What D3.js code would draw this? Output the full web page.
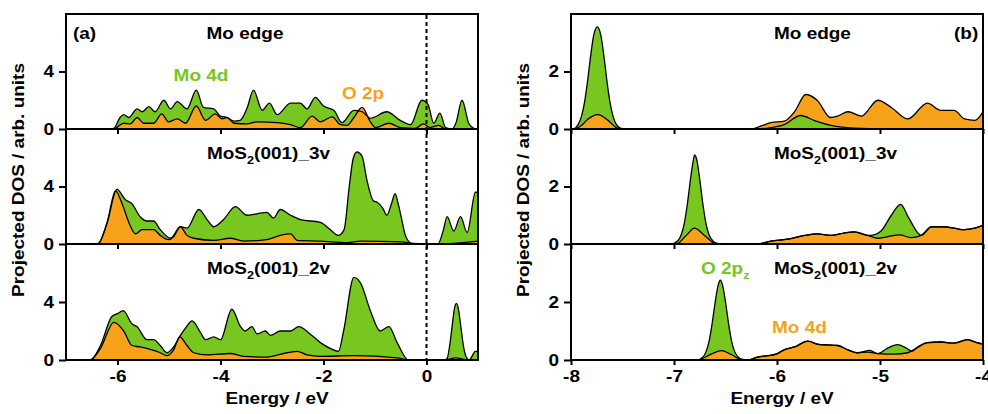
<!DOCTYPE html>
<html><head><meta charset="utf-8">
<script src="https://cdn.jsdelivr.net/npm/d3@7/dist/d3.min.js"></script>
<style>
body{margin:0;background:#fff;}
svg text{font-family:"Liberation Sans",Arial,sans-serif;font-weight:bold;}
</style></head>
<body><svg id="c" width="988" height="414"></svg>
<script>
// ---------- DATA ----------
const leftXTicks = [-6,-4,-2,0];
const leftYTicks = [0,4];
const rightXTicks = [-8,-7,-6,-5,-4];
const rightYTicks = [0,2];
const panelTitles = ["Mo edge","MoS2(001)_3v","MoS2(001)_2v"];

// (a) green = Mo 4d, orange = O 2p
const leftMoEdgeMo4d = [[-7,0],[-6.2,0],[-6.07,0.05],[-5.95,0.8],[-5.88,1.0],[-5.78,0.8],[-5.62,1.4],[-5.52,1.2],[-5.39,1.55],[-5.27,1.2],[-5.10,2.0],[-4.97,1.4],[-4.84,1.9],[-4.65,1.4],[-4.47,2.7],[-4.33,1.5],[-4.13,1.4],[-4.0,0.9],[-3.87,0.8],[-3.74,0.55],[-3.62,0.6],[-3.48,1.5],[-3.36,2.7],[-3.19,1.3],[-3.05,1.8],[-2.90,1.0],[-2.64,1.8],[-2.45,1.8],[-2.32,1.4],[-2.16,2.2],[-2.0,1.6],[-1.80,1.3],[-1.64,0.45],[-1.41,1.3],[-1.25,1.2],[-1.09,0.75],[-0.77,1.2],[-0.51,0.6],[-0.31,0.3],[-0.09,2.0],[0.03,1.7],[0.14,0.4],[0.26,1.1],[0.37,0.1],[0.50,0],[0.57,0.4],[0.69,2.0],[0.82,0.4],[0.92,0.05],[1,0]];
const leftMoEdgeO2p = [[-7,0],[-6.1,0],[-6.04,0.05],[-5.88,0.4],[-5.75,0.35],[-5.62,0.8],[-5.49,0.4],[-5.30,0.4],[-5.14,1.05],[-5.01,0.5],[-4.84,0.7],[-4.68,0.4],[-4.47,1.6],[-4.29,0.6],[-4.10,1.05],[-3.97,0.7],[-3.87,0.8],[-3.74,0.4],[-3.49,0.35],[-3.29,0.5],[-2.90,0.45],[-2.64,0.3],[-2.45,0.1],[-2.22,0.9],[-2.06,0.5],[-1.83,0.85],[-1.67,0.3],[-1.54,0.25],[-1.41,0.8],[-1.25,1.5],[-1.09,0.5],[-0.99,0.1],[-0.73,0.4],[-0.51,0.1],[-0.22,0.05],[-0.06,0.35],[0.07,0.1],[0.24,0.25],[0.37,0],[1,0]];
const left3vMo4d = [[-7,0],[-6.45,0],[-6.37,0.05],[-6.20,1.5],[-6.01,3.8],[-5.85,3.1],[-5.72,2.8],[-5.56,1.9],[-5.43,1.6],[-5.30,1.6],[-5.17,1.0],[-4.97,0.4],[-4.78,1.2],[-4.65,1.1],[-4.42,2.4],[-4.26,1.7],[-4.13,1.2],[-3.94,1.7],[-3.71,2.6],[-3.49,2.0],[-3.29,2.1],[-3.10,2.2],[-2.97,1.8],[-2.84,2.4],[-2.64,2.0],[-2.45,1.7],[-2.06,1.5],[-1.87,1.0],[-1.71,0.6],[-1.60,1.0],[-1.50,4.0],[-1.42,6.0],[-1.35,6.4],[-1.25,6.1],[-1.16,4.5],[-1.03,3.0],[-0.96,2.9],[-0.85,2.5],[-0.77,2.0],[-0.68,2.8],[-0.61,3.5],[-0.55,2.8],[-0.48,1.7],[-0.41,0.6],[-0.30,0.05],[-0.25,0],[0.22,0],[0.33,1.0],[0.40,1.9],[0.53,0.9],[0.66,1.9],[0.79,0.8],[0.95,3.6],[1,3.6]];
const left3vO2p = [[-7,0],[-6.45,0],[-6.37,0.05],[-6.20,1.5],[-6.04,3.7],[-5.91,2.8],[-5.78,1.5],[-5.65,0.7],[-5.52,1.0],[-5.30,1.0],[-5.17,0.6],[-5.01,0.3],[-4.91,0.5],[-4.78,1.2],[-4.65,0.6],[-4.52,0.4],[-4.13,0.25],[-3.81,0.4],[-3.55,0.2],[-3.10,0.3],[-2.84,0.6],[-2.64,0.7],[-2.51,0.25],[-2.06,0.2],[-1.54,0.1],[-1.28,0.2],[-0.48,0.15],[-0.25,0.05],[0.2,0],[1,0.2]];
const left2vMo4d = [[-7,0],[-6.55,0],[-6.50,0.05],[-6.33,1.0],[-6.11,3.0],[-6.0,3.2],[-5.89,3.4],[-5.72,2.5],[-5.62,2.3],[-5.43,1.4],[-5.30,1.4],[-5.17,1.0],[-5.04,0.5],[-4.91,0.9],[-4.78,1.7],[-4.68,2.2],[-4.55,2.7],[-4.39,1.9],[-4.29,1.4],[-4.13,1.6],[-4.0,1.4],[-3.78,3.5],[-3.61,2.3],[-3.52,2.0],[-3.39,2.3],[-3.29,1.8],[-3.13,2.0],[-3.03,1.7],[-2.84,2.0],[-2.64,2.0],[-2.48,2.3],[-2.26,1.8],[-2.06,1.2],[-1.87,0.8],[-1.71,0.6],[-1.61,2.0],[-1.41,5.7],[-1.28,5.3],[-1.09,3.4],[-0.90,2.0],[-0.73,2.3],[-0.57,1.2],[-0.35,0],[0.35,0],[0.40,0.1],[0.45,1.0],[0.50,2.4],[0.54,3.5],[0.58,3.9],[0.62,3.5],[0.67,2.2],[0.72,0.9],[0.78,0.15],[0.83,0],[0.95,0.6],[1,0.6]];
const left2vO2p = [[-7,0],[-6.55,0],[-6.50,0.05],[-6.33,0.8],[-6.07,2.6],[-5.88,2.0],[-5.72,1.0],[-5.56,0.9],[-5.33,0.7],[-5.17,0.5],[-5.04,0.3],[-4.91,0.7],[-4.79,1.6],[-4.65,1.0],[-4.52,0.5],[-4.26,0.35],[-3.81,0.45],[-3.55,0.25],[-3.10,0.2],[-2.71,0.5],[-2.51,0.6],[-2.32,0.35],[-2.06,0.25],[-1.41,0.3],[-0.57,0.15],[-0.35,0],[0.37,0],[0.56,0.15],[0.80,0],[1,0]];

// (b) green = O 2pz, orange = Mo 4d
const rightMoEdgeO2pz = [[-8,0],[-7.98,0],[-7.93,0.16],[-7.90,0.42],[-7.87,0.9],[-7.84,1.64],[-7.81,2.52],[-7.78,3.26],[-7.745,3.55],[-7.71,3.26],[-7.68,2.52],[-7.65,1.64],[-7.62,0.9],[-7.59,0.42],[-7.56,0.16],[-7.52,0.03],[-7.48,0],[-6.22,0],[-6.06,0.05],[-5.93,0.15],[-5.77,0.47],[-5.64,0.3],[-5.44,0.1],[-5.18,0.02],[-4.86,0],[-4,0]];
const rightMoEdgeMo4d = [[-8,0],[-7.97,0],[-7.90,0.12],[-7.84,0.33],[-7.74,0.5],[-7.64,0.3],[-7.56,0.05],[-7.51,0],[-6.25,0],[-6.16,0.1],[-6.06,0.22],[-5.93,0.27],[-5.83,0.6],[-5.72,1.2],[-5.61,1.0],[-5.48,0.4],[-5.41,0.45],[-5.31,0.6],[-5.18,0.45],[-5.02,1.0],[-4.89,0.75],[-4.73,0.35],[-4.54,0.9],[-4.41,0.65],[-4.28,0.65],[-4.18,0.35],[-4.08,0.3],[-4.0,0.6]];
const right3vO2pz = [[-8,0],[-7.02,0],[-6.96,0.12],[-6.93,0.32],[-6.90,0.72],[-6.87,1.4],[-6.84,2.25],[-6.81,2.95],[-6.80,3.1],[-6.78,2.95],[-6.75,2.25],[-6.72,1.4],[-6.69,0.72],[-6.66,0.32],[-6.62,0.1],[-6.57,0.01],[-6.54,0],[-6.19,0],[-6.06,0.1],[-5.90,0.17],[-5.73,0.3],[-5.61,0.35],[-5.48,0.3],[-5.35,0.38],[-5.25,0.42],[-5.12,0.3],[-5.05,0.33],[-4.99,0.45],[-4.89,1.0],[-4.80,1.38],[-4.72,0.9],[-4.60,0.3],[-4.50,0.6],[-4.38,0.6],[-4.28,0.55],[-4.18,0.5],[-4.08,0.55],[-4.0,0.65]];
const right3vMo4d = [[-8,0],[-6.98,0],[-6.88,0.3],[-6.80,0.55],[-6.72,0.35],[-6.62,0.05],[-6.58,0],[-6.19,0],[-6.06,0.1],[-5.90,0.17],[-5.73,0.3],[-5.61,0.35],[-5.48,0.3],[-5.35,0.38],[-5.25,0.42],[-5.12,0.3],[-5.02,0.2],[-4.93,0.25],[-4.81,0.32],[-4.70,0.22],[-4.60,0.3],[-4.50,0.6],[-4.38,0.6],[-4.28,0.55],[-4.18,0.5],[-4.08,0.55],[-4.0,0.65]];
const right2vO2pz = [[-8,0],[-6.78,0],[-6.72,0.1],[-6.69,0.28],[-6.66,0.63],[-6.63,1.25],[-6.60,2.0],[-6.57,2.6],[-6.55,2.75],[-6.53,2.6],[-6.50,2.0],[-6.47,1.25],[-6.44,0.63],[-6.41,0.28],[-6.37,0.08],[-6.32,0.01],[-6.28,0],[-6.19,0.1],[-6.09,0.15],[-6.01,0.2],[-5.93,0.35],[-5.83,0.45],[-5.70,0.65],[-5.61,0.55],[-5.51,0.52],[-5.41,0.5],[-5.31,0.35],[-5.22,0.25],[-5.10,0.33],[-5.02,0.22],[-4.93,0.4],[-4.83,0.53],[-4.75,0.42],[-4.69,0.3],[-4.63,0.45],[-4.54,0.6],[-4.41,0.62],[-4.28,0.58],[-4.15,0.7],[-4.06,0.6],[-4.0,0.55]];
const right2vMo4d = [[-8,0],[-6.77,0],[-6.64,0.2],[-6.54,0.32],[-6.45,0.2],[-6.35,0.02],[-6.28,0],[-6.19,0.1],[-6.09,0.15],[-6.01,0.2],[-5.93,0.35],[-5.83,0.45],[-5.70,0.65],[-5.61,0.55],[-5.51,0.52],[-5.41,0.5],[-5.31,0.35],[-5.22,0.25],[-5.12,0.27],[-5.02,0.22],[-4.86,0.2],[-4.73,0.25],[-4.63,0.45],[-4.54,0.6],[-4.41,0.62],[-4.28,0.58],[-4.15,0.7],[-4.06,0.6],[-4.0,0.55]];

// ---------- STYLE / LAYOUT ----------
const GREEN = "#77c720", ORANGE = "#f8a21b";
const FS = 16.5, SX = 1.15;
const rows = [[14,129],[129,244],[244,360]];
const svg = d3.select("#c");

const xL = d3.scaleLinear().domain([-7,1]).range([66,478]);
const xR = d3.scaleLinear().domain([-8,-4]).range([571,983]);

// sample a rendered path into y-per-pixel lookup
function sampleY(node, x0, x1){
  const n = Math.round((x1-x0)*4)+1, ys = new Array(n).fill(null);
  const L = node.getTotalLength();
  for(let s=0; s<=L; s+=0.25){
    const p = node.getPointAtLength(s);
    const i = Math.round((p.x-x0)*4);
    if(i>=0 && i<n) ys[i] = p.y;
  }
  for(let i=1;i<n;i++) if(ys[i]===null) ys[i]=ys[i-1];
  for(let i=n-2;i>=0;i--) if(ys[i]===null) ys[i]=ys[i+1];
  return ys;
}

let clipId = 0;
function drawSub(x, yMax, yTicks, xTicks, green, orange, r, showXLabels, smallerFront){
  const [top,bottom] = r;
  const y = d3.scaleLinear().domain([0,yMax]).range([bottom, top]);
  const [x0,x1] = x.range();
  const id = "pc"+(clipId++);
  const defs = svg.append("defs");
  defs.append("clipPath").attr("id",id).append("rect")
    .attr("x",x0).attr("y",top).attr("width",x1-x0).attr("height",bottom-top);
  const area = d3.area().x(d=>x(d[0])).y0(y(0)).y1(d=>y(d[1])).curve(d3.curveMonotoneX);
  const line = d3.line().x(d=>x(d[0])).y(d=>y(d[1])).curve(d3.curveMonotoneX);
  const g = svg.append("g").attr("clip-path",`url(#${id})`);
  const fills = g.append("g");
  fills.append("path").datum(green).attr("d",area).attr("fill",GREEN);
  fills.append("path").datum(orange).attr("d",area).attr("fill",ORANGE);
  const gl = g.append("path").datum(green).attr("d",line).attr("fill","none").attr("stroke","#000").attr("stroke-width",1.3);
  const ol = g.append("path").datum(orange).attr("d",line).attr("fill","none").attr("stroke","#000").attr("stroke-width",1.3);
  if(smallerFront){
    const gy = sampleY(gl.node(), x0, x1), oy = sampleY(ol.node(), x0, x1);
    const gid = "gf"+(clipId++);
    const cp = defs.append("clipPath").attr("id",gid);
    let start=null;
    for(let i=0;i<gy.length;i++){
      const front = gy[i] > oy[i] + 2;
      if(front && start===null) start=i;
      if((!front || i===gy.length-1) && start!==null){
        cp.append("rect").attr("x",x0+start/4).attr("y",top-2).attr("width",(i-start)/4).attr("height",bottom-top+4);
        start=null;
      }
    }
    fills.append("path").datum(green).attr("d",area).attr("fill",GREEN).attr("clip-path",`url(#${gid})`);
  }

  // axes
  const ax = svg.append("g").attr("transform",`translate(0,${bottom})`)
    .call(d3.axisBottom(x).tickValues(xTicks).tickSize(5).tickSizeOuter(0).tickPadding(5)
      .tickFormat(d=>showXLabels?String(d):""));
  const ay = svg.append("g").attr("transform",`translate(${x0},0)`)
    .call(d3.axisLeft(y).tickValues(yTicks).tickSize(7).tickSizeOuter(0).tickPadding(5).tickFormat(d=>String(d)));
  [ax,ay].forEach(a=>{
    a.select(".domain").remove();
    a.selectAll(".tick line").attr("stroke","#000").attr("stroke-width",2);
    a.selectAll(".tick text").attr("fill","#000").style("font-size",FS+"px")
      .style("font-family","'Liberation Sans',Arial,sans-serif").style("font-weight","bold")
      .attr("transform",`scale(${SX},1)`);
  });
  ay.selectAll(".tick text").attr("x",-12/SX);
  // frame
  svg.append("rect").attr("x",x0).attr("y",top).attr("width",x1-x0).attr("height",bottom-top)
    .attr("fill","none").attr("stroke","#000").attr("stroke-width",2);
  return y;
}

const leftSets = [[leftMoEdgeMo4d,leftMoEdgeO2p],[left3vMo4d,left3vO2p],[left2vMo4d,left2vO2p]];
const rightSets = [[rightMoEdgeO2pz,rightMoEdgeMo4d],[right3vO2pz,right3vMo4d],[right2vO2pz,right2vMo4d]];
rows.forEach((r,i)=>{
  drawSub(xL, 8, leftYTicks, leftXTicks, leftSets[i][0], leftSets[i][1], r, i===2, false);
  drawSub(xR, 4, rightYTicks, rightXTicks, rightSets[i][0], rightSets[i][1], r, i===2, true);
});

// Fermi level dashed line
svg.append("line").attr("x1",xL(0)).attr("x2",xL(0)).attr("y1",15).attr("y2",360)
  .attr("stroke","#000").attr("stroke-width",2).attr("stroke-dasharray","4,3");

// ---------- TEXT ----------
function txt(x,y,s,opts={}){
  return svg.append("text").attr("transform",`translate(${x},${y}) scale(${SX},1)`).text(s)
    .attr("text-anchor",opts.anchor||"start").attr("fill",opts.fill||"#000")
    .style("font-size",(opts.size||FS)+"px");
}
function subTitle(x,y,base,sub,rest,fill){
  const t = svg.append("text").attr("transform",`translate(${x},${y}) scale(${SX},1)`)
    .attr("fill",fill||"#000").style("font-size",FS+"px");
  t.append("tspan").text(base);
  t.append("tspan").text(sub).attr("dy",5).style("font-size","11px");
  if(rest) t.append("tspan").text(rest).attr("dy",-5);
  return t;
}
txt(73,39,"(a)");
txt(245,39,panelTitles[0],{anchor:"middle"});
subTitle(207,159,"MoS","2","(001)_3v");
subTitle(207,274,"MoS","2","(001)_2v");
txt(201,81,"Mo 4d",{anchor:"middle",fill:GREEN});
txt(363,99,"O 2p",{anchor:"middle",fill:ORANGE});

txt(954,39,"(b)");
txt(774,39,panelTitles[0]);
subTitle(774,159,"MoS","2","(001)_3v");
subTitle(774,274,"MoS","2","(001)_2v");
subTitle(701,274,"O 2p","z","",GREEN);
txt(772,333,"Mo 4d",{fill:ORANGE});

txt(277,404,"Energy / eV",{anchor:"middle"});
txt(782,404,"Energy / eV",{anchor:"middle"});
svg.append("text").attr("transform",`translate(24,180) rotate(-90) scale(${SX},1)`).attr("text-anchor","middle")
  .style("font-size",FS+"px").text("Projected DOS / arb. units");
svg.append("text").attr("transform",`translate(529,180) rotate(-90) scale(${SX},1)`).attr("text-anchor","middle")
  .style("font-size",FS+"px").text("Projected DOS / arb. units");
</script></body></html>
